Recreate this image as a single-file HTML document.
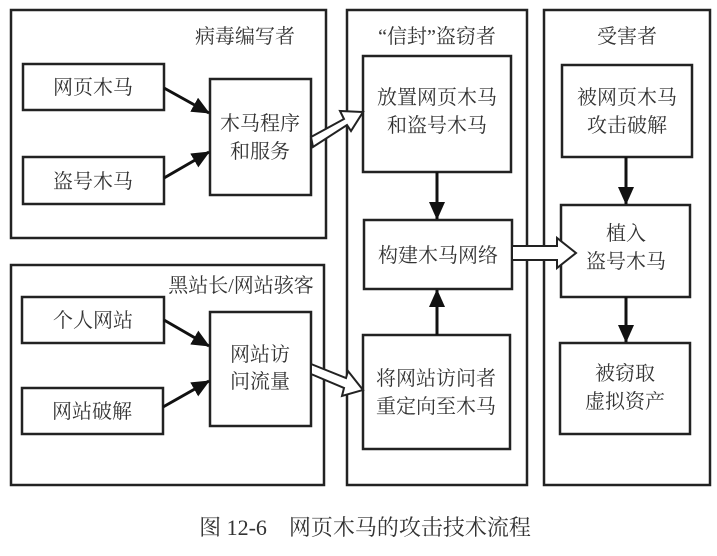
<!DOCTYPE html>
<html><head><meta charset="utf-8"><style>
body{margin:0;background:#fff;}
svg text{font-family:"Liberation Serif","Noto Serif CJK SC","Noto Sans CJK SC",serif;fill:#333;font-size:20px;text-anchor:middle;}
</style></head><body>
<svg width="717" height="551" viewBox="0 0 717 551" xmlns="http://www.w3.org/2000/svg">
<defs>
<marker id="b" markerWidth="18" markerHeight="16" refX="17" refY="8" orient="auto" markerUnits="userSpaceOnUse"><path d="M0,0L18,8L0,16z" fill="#111"/></marker></defs>
<g fill="none" stroke="#222" stroke-width="2.5">
<rect x="11" y="10" width="315" height="228"/>
<rect x="11" y="265" width="313" height="220"/>
<rect x="347" y="10" width="180" height="475"/>
<rect x="544" y="10" width="166" height="475"/>
<rect x="23" y="64" width="141" height="46"/>
<rect x="23" y="157" width="141" height="47"/>
<rect x="210" y="79" width="101" height="116"/>
<rect x="22" y="297" width="142" height="46"/>
<rect x="22" y="388" width="141" height="46"/>
<rect x="210" y="312" width="101" height="114"/>
<rect x="363" y="56" width="148" height="116"/>
<rect x="364" y="220" width="148" height="69"/>
<rect x="363" y="335" width="147" height="114"/>
<rect x="562" y="65" width="130" height="92"/>
<rect x="561" y="205" width="129" height="92"/>
<rect x="560" y="343" width="130" height="91"/>
</g>
<g stroke="#111" stroke-width="3" fill="none">
<line x1="164" y1="88" x2="209" y2="113" marker-end="url(#b)"/>
<line x1="164" y1="178" x2="209" y2="152" marker-end="url(#b)"/>
<line x1="164" y1="320" x2="209" y2="346" marker-end="url(#b)"/>
<line x1="163" y1="407" x2="209" y2="381" marker-end="url(#b)"/>
<line x1="437" y1="172" x2="437" y2="219" marker-end="url(#b)"/>
<line x1="437" y1="335" x2="437" y2="290" marker-end="url(#b)"/>
<line x1="626" y1="157" x2="626" y2="204" marker-end="url(#b)"/>
<line x1="626" y1="297" x2="626" y2="342" marker-end="url(#b)"/>
</g>
<g fill="#fff" stroke="#222" stroke-width="2">
<path d="M311,137 L344,119 L340,111 L363,112 L351,131 L347,125 L313,147 Z"/>
<path d="M311,364 L346,378 L348,371 L363,390 L342,396 L344,388 L311,374 Z"/>
<path d="M512,246 L557,246 L557,238 L576,253 L557,268 L557,260 L512,260 Z"/>
</g>
<text x="245" y="43">病毒编写者</text>
<text x="93" y="94">网页木马</text>
<text x="93" y="188">盗号木马</text>
<text x="260" y="130">木马程序</text>
<text x="260" y="158">和服务</text>
<text x="241" y="292">黑站长/网站骇客</text>
<text x="93" y="327">个人网站</text>
<text x="92" y="418">网站破解</text>
<text x="260" y="361">网站访</text>
<text x="260" y="388">问流量</text>
<text x="437" y="43">“信封”盗窃者</text>
<text x="437" y="104">放置网页木马</text>
<text x="437" y="132">和盗号木马</text>
<text x="438" y="262">构建木马网络</text>
<text x="436" y="385">将网站访问者</text>
<text x="436" y="413">重定向至木马</text>
<text x="627" y="43">受害者</text>
<text x="627" y="104">被网页木马</text>
<text x="627" y="132">攻击破解</text>
<text x="626" y="240">植入</text>
<text x="626" y="268">盗号木马</text>
<text x="625" y="380">被窃取</text>
<text x="625" y="408">虚拟资产</text>
<text x="365" y="535" style="font-size:22px">图 12-6　网页木马的攻击技术流程</text>
</svg>
</body></html>
